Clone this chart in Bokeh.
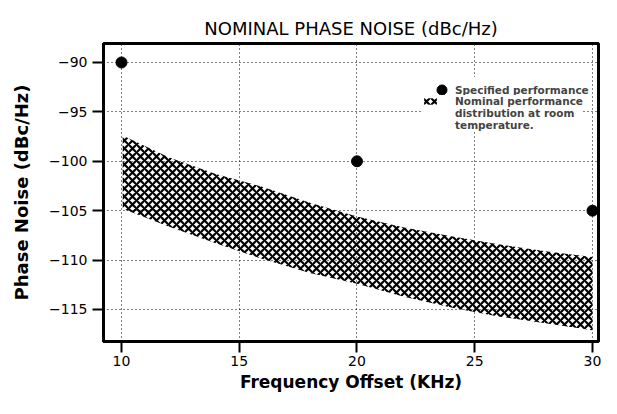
from bokeh.plotting import figure
from bokeh.models import Legend, LegendItem, Range1d, FixedTicker, ColumnDataSource, Title
from bokeh.embed import file_html
from bokeh.resources import INLINE

# ---- data ----
spec_freq = [10, 20, 30]
spec_noise = [-90, -100, -105]

band_freq = [10.05, 12, 14, 16, 18, 20, 22, 24, 26, 28, 30]
band_upper = [-97.4, -99.6, -101.3, -102.6, -104.2, -105.6, -106.7, -107.6, -108.4, -109.1, -109.7]
band_lower = [-104.8, -106.6, -108.3, -109.9, -111.3, -112.4, -113.7, -114.8, -115.7, -116.4, -117.1]

x_ticks = [10, 15, 20, 25, 30]
y_ticks = [-90, -95, -100, -105, -110, -115]

legend_spec = "Specified performance"
legend_band = ["Nominal performance", "distribution at room", "temperature."]

FONT = "DejaVu Sans"

p = figure(width=601, height=398, output_backend="svg", toolbar_location=None,
           x_range=Range1d(9.236, 30.255), y_range=Range1d(-118.24, -88.08),
           min_border_left=103, min_border_right=3, min_border_top=43, min_border_bottom=57)

p.title = Title(text="NOMINAL PHASE NOISE (dBc/Hz)", align="center",
                text_font=FONT, text_font_size="18px", text_font_style="normal",
                text_color="black", standoff=10)

band_src = ColumnDataSource(dict(x=band_freq, y1=band_lower, y2=band_upper))
band = p.varea(x="x", y1="y1", y2="y2", source=band_src, fill_alpha=0,
               hatch_pattern="x", hatch_color="black", hatch_weight=2.2,
               hatch_scale=8)

pts = p.scatter(spec_freq, spec_noise, size=11, color="black")

# empty renderer used only for continuation lines of the legend text
blank = p.scatter(x=[], y=[], alpha=0)

# axes
p.xaxis.ticker = FixedTicker(ticks=x_ticks)
p.yaxis.ticker = FixedTicker(ticks=y_ticks)
p.yaxis.major_label_overrides = {v: ("\u2212" + str(abs(v))) for v in y_ticks}
for ax in (p.xaxis, p.yaxis):
    ax.axis_line_width = 3
    ax.axis_line_color = "black"
    ax.major_tick_out = 11
    ax.major_tick_in = 0
    ax.major_tick_line_width = 2
    ax.major_tick_line_color = "black"
    ax.minor_tick_line_color = None
    ax.major_label_text_font = FONT
    ax.major_label_text_font_size = "14px"
    ax.major_label_text_color = "black"
    ax.axis_label_text_font = FONT
    ax.axis_label_text_font_style = "bold"
    ax.axis_label_text_color = "black"
p.xaxis.axis_label = "Frequency Offset (KHz)"
p.yaxis.axis_label = "Phase Noise (dBc/Hz)"
p.xaxis.axis_label_text_font_size = "17px"
p.yaxis.axis_label_text_font_size = "18px"
p.xaxis.major_label_standoff = 3
p.yaxis.major_label_standoff = 5
p.xaxis.axis_label_standoff = 3
p.yaxis.axis_label_standoff = 14

p.outline_line_color = "black"
p.outline_line_width = 3
p.outline_line_alpha = 1

p.grid.grid_line_color = "black"
p.grid.grid_line_dash = "1 3"
p.grid.grid_line_width = 1

leg1 = Legend(items=[LegendItem(label=legend_spec, renderers=[pts])],
              location=(326, 239), background_fill_color="white", background_fill_alpha=1,
              border_line_color=None, label_text_font=FONT, label_text_font_size="10.5px",
              label_text_font_style="bold", glyph_width=25, glyph_height=25, spacing=0,
              padding=0, margin=0, label_standoff=1)
leg2 = Legend(items=[LegendItem(label=legend_band[0], renderers=[band]),
                     LegendItem(label=legend_band[1], renderers=[blank]),
                     LegendItem(label=legend_band[2], renderers=[blank])],
              location=(319, 210), background_fill_color="white", background_fill_alpha=1,
              border_line_color=None, label_text_font=FONT, label_text_font_size="10.5px",
              label_text_font_style="bold", glyph_width=16, glyph_height=8, spacing=0,
              padding=0, margin=0, label_standoff=17, label_height=11)
p.add_layout(leg1, "center")
p.add_layout(leg2, "center")

open("out.html", "w").write(file_html(p, INLINE))
